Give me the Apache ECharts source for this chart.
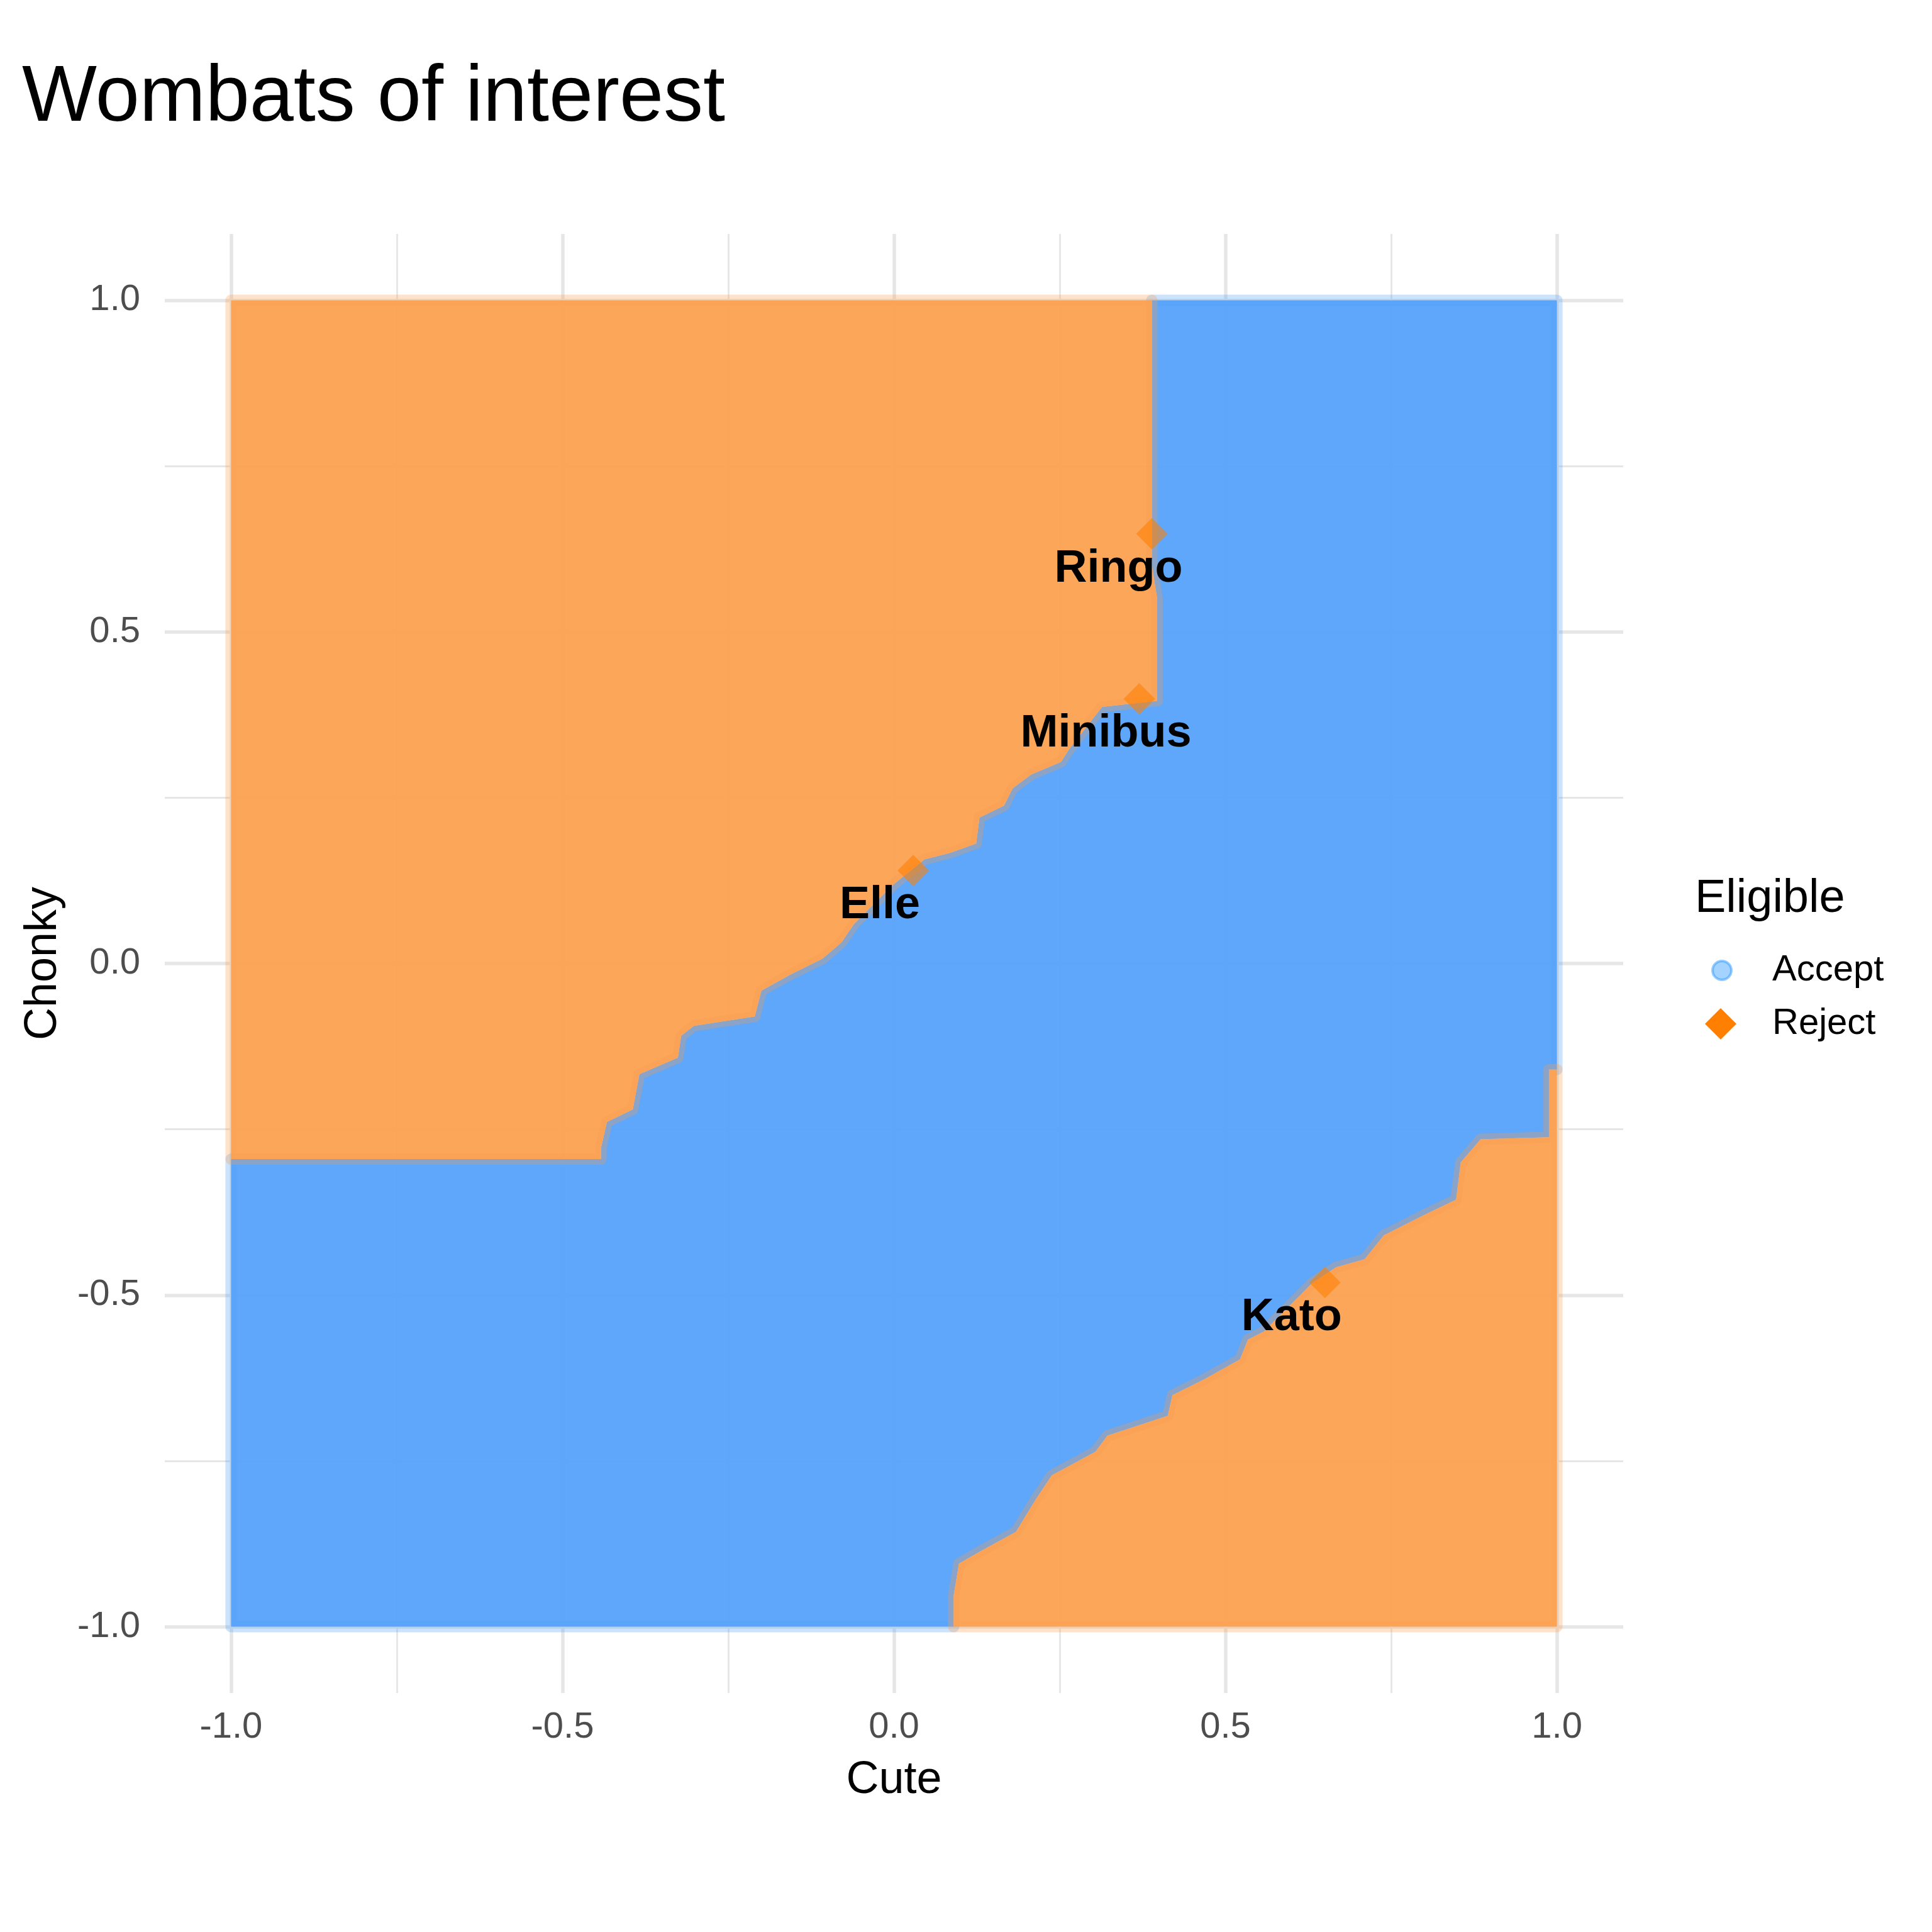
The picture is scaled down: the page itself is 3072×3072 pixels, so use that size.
<!DOCTYPE html>
<html>
<head>
<meta charset="utf-8">
<title>Wombats of interest</title>
<script src="https://cdn.jsdelivr.net/npm/echarts@6/dist/echarts.min.js"></script>
<style>
  html, body { margin: 0; padding: 0; background: #fff; }
  #chart { width: 3072px; height: 3072px; }
</style>
</head>
<body>
<div id="chart"></div>
<script>
// tick positions (same on both axes)
const majorTicks = [-1, -0.5, 0, 0.5, 1];
const minorTicks = [-0.75, -0.25, 0.25, 0.75];

// the four named wombats (all rejected)
const wombatNames = ['Ringo', 'Minibus', 'Elle', 'Kato'];
const wombatCute = [0.389, 0.370, 0.029, 0.650];
const wombatChonky = [0.648, 0.399, 0.140, -0.481];

// decision boundary of the upper-left reject zone, from the left edge to the top edge
const upperRejectEdge = [
  [-1, -0.295], [-0.442, -0.295], [-0.442, -0.278], [-0.433, -0.239], [-0.394, -0.22],
  [-0.384, -0.167], [-0.326, -0.142], [-0.321, -0.109], [-0.302, -0.094], [-0.21, -0.08],
  [-0.2, -0.041], [-0.157, -0.017], [-0.108, 0.007], [-0.079, 0.032], [-0.06, 0.06],
  [-0.002, 0.118], [0.046, 0.157], [0.085, 0.167], [0.124, 0.181], [0.129, 0.22],
  [0.166, 0.238], [0.179, 0.264], [0.207, 0.285], [0.252, 0.304], [0.264, 0.323],
  [0.296, 0.364], [0.314, 0.387], [0.397, 0.396], [0.397, 0.55], [0.389, 0.6], [0.389, 1]
];

// decision boundary of the lower-right reject zone, from the right edge to the bottom edge
const lowerRejectEdge = [
  [1, -0.16], [0.988, -0.16], [0.988, -0.262], [0.885, -0.265], [0.855, -0.3],
  [0.848, -0.356], [0.8, -0.379], [0.739, -0.41], [0.71, -0.446], [0.667, -0.458],
  [0.631, -0.482], [0.558, -0.555], [0.534, -0.567], [0.522, -0.597], [0.468, -0.627],
  [0.42, -0.651], [0.413, -0.682], [0.322, -0.712], [0.304, -0.736], [0.238, -0.772],
  [0.214, -0.808], [0.184, -0.857], [0.129, -0.887], [0.098, -0.905], [0.09, -0.953], [0.09, -1]
];

const font = 'Liberation Sans';
const acceptFill = 'rgba(84, 162, 250, 0.94)';
const rejectFill = 'rgba(252, 160, 80, 0.94)';

const zones = [
  { points: [...upperRejectEdge, [1, 1], ...lowerRejectEdge, [-1, -1]], fill: acceptFill, edge: 'rgba(84, 162, 250, 0.3)' },
  { points: [[-1, 1], ...upperRejectEdge], fill: rejectFill, edge: 'rgba(252, 160, 80, 0.3)' },
  { points: [[1, -1], ...lowerRejectEdge], fill: rejectFill, edge: 'rgba(252, 160, 80, 0.3)' }
];

const gridLines = [];
majorTicks.forEach(v => {
  gridLines.push({ xAxis: v, lineStyle: { width: 5.5 } });
  gridLines.push({ yAxis: v, lineStyle: { width: 5.5 } });
});
minorTicks.forEach(v => {
  gridLines.push({ xAxis: v, lineStyle: { width: 2.8 } });
  gridLines.push({ yAxis: v, lineStyle: { width: 2.8 } });
});

const chart = echarts.init(document.getElementById('chart'));

const option = {
  animation: false,
  backgroundColor: '#fff',
  textStyle: { fontFamily: font },
  title: [
    {
      text: 'Wombats of interest', left: 35, top: 94, padding: 0,
      textStyle: { fontSize: 126, fontWeight: 'normal', color: '#000', fontFamily: font }
    },
    {
      text: 'Eligible', left: 2695, top: 1393, padding: 0,
      textStyle: { fontSize: 74, fontWeight: 'normal', color: '#000', fontFamily: font }
    }
  ],
  legend: [
    {
      data: [{
        name: 'Accept',
        itemStyle: { color: 'rgba(30,144,255,0.4)', borderColor: 'rgba(30,144,255,0.45)', borderWidth: 4, opacity: 1 }
      }],
      left: 2721, top: 1508, padding: 0, orient: 'vertical',
      itemWidth: 30, itemHeight: 30, selectedMode: false,
      textStyle: { fontSize: 58, color: '#000', lineHeight: 70, padding: [0, 0, 0, 60], fontFamily: font }
    },
    {
      data: [{ name: 'Reject', itemStyle: { color: '#FF7F00', opacity: 1 } }],
      left: 2711, top: 1593, padding: 0, orient: 'vertical',
      itemWidth: 50, itemHeight: 50, selectedMode: false,
      textStyle: { fontSize: 58, color: '#000', lineHeight: 70, padding: [0, 0, 0, 52], fontFamily: font }
    }
  ],
  grid: { left: 262, right: 491, top: 372, bottom: 380 },
  xAxis: {
    type: 'value', min: -1.1, max: 1.1,
    name: 'Cute', nameLocation: 'middle', nameGap: 103,
    nameTextStyle: { fontSize: 72, color: '#000', fontFamily: font },
    axisLine: { show: false }, axisTick: { show: false }, splitLine: { show: false },
    axisLabel: {
      customValues: majorTicks, formatter: v => v.toFixed(1),
      fontSize: 58, color: '#4D4D4D', margin: 26, fontFamily: font
    }
  },
  yAxis: {
    type: 'value', min: -1.1, max: 1.1,
    name: 'Chonky', nameLocation: 'middle', nameGap: 157, nameRotate: 90,
    nameTextStyle: { fontSize: 72, color: '#000', fontFamily: font },
    axisLine: { show: false }, axisTick: { show: false }, splitLine: { show: false },
    axisLabel: {
      customValues: majorTicks, formatter: v => v.toFixed(1),
      fontSize: 58, color: '#4D4D4D', margin: 39, fontFamily: font
    }
  },
  series: [
    {
      // legend entry for accepted wombats, also carries the panel grid lines
      name: 'Accept', type: 'scatter', data: [], z: 1,
      symbol: 'circle',
      itemStyle: { color: 'rgba(30,144,255,0.4)', borderColor: 'rgba(30,144,255,0.45)', borderWidth: 4 },
      markLine: {
        z: 1, silent: true, symbol: ['none', 'none'], label: { show: false },
        lineStyle: { color: '#E6E6E6', type: 'solid' },
        emphasis: { disabled: true },
        data: gridLines
      }
    },
    {
      name: 'zones', type: 'custom', z: 2, silent: true,
      data: zones.map(() => [0, 0]),
      renderItem: (params, api) => {
        const zone = zones[params.dataIndex];
        return {
          type: 'polygon',
          shape: { points: zone.points.map(p => api.coord(p)) },
          style: { fill: zone.fill, stroke: zone.edge, lineWidth: 18, lineJoin: 'round' }
        };
      }
    },
    {
      name: 'Reject', type: 'scatter', z: 5,
      symbol: 'diamond', symbolSize: 50,
      itemStyle: { color: 'rgba(255,127,0,0.72)' },
      label: {
        show: true, formatter: '{b}', position: 'inside', offset: [-53, 56],
        fontSize: 72, fontWeight: 'bold', color: '#000', textBorderWidth: 0, opacity: 1, fontFamily: font
      },
      data: wombatNames.map((n, i) => ({ name: n, value: [wombatCute[i], wombatChonky[i]] }))
    }
  ]
};

chart.setOption(option);
</script>
</body>
</html>
